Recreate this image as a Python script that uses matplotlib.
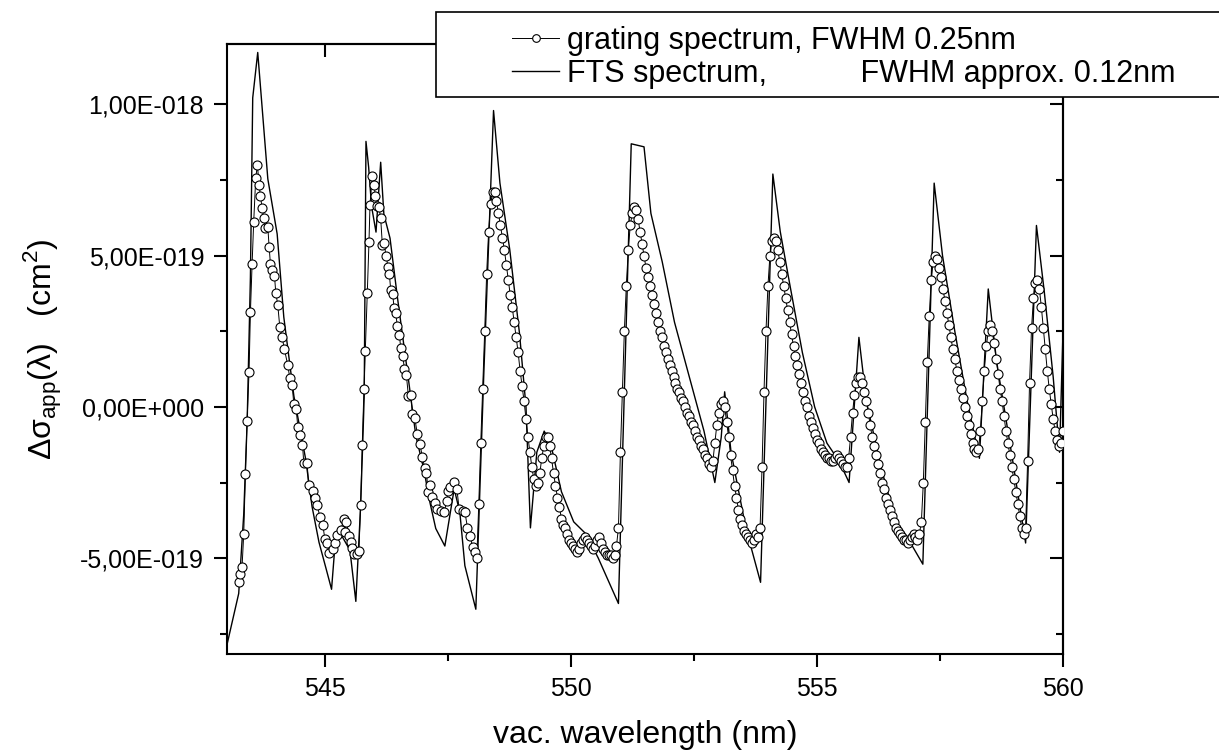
import matplotlib
matplotlib.use("Agg")
import matplotlib.pyplot as plt
from matplotlib.ticker import FixedLocator, FixedFormatter, MultipleLocator
from matplotlib.lines import Line2D
from matplotlib.patches import Rectangle

plt.rcParams['font.family'] = ['Liberation Sans', 'DejaVu Sans']

SCALE = 1e-18

# grating spectrum: wavelength (nm) and value (1e-18 cm^2)
grating_wl = [
    543.238, 543.272, 543.306, 543.340, 543.374, 543.408, 543.448, 543.476, 543.510, 543.543,
    543.584, 543.618, 543.652, 543.679, 543.713, 543.747, 543.780, 543.830, 543.856, 543.883,
    543.924, 543.965, 543.992, 544.033, 544.073, 544.120, 544.168, 544.236, 544.277, 544.325,
    544.359, 544.406, 544.440, 544.480, 544.535, 544.562, 544.630, 544.658, 544.739, 544.780,
    544.834, 544.889, 544.950, 544.990, 545.038, 545.072, 545.160, 545.194, 545.242, 545.310,
    545.378, 545.398, 545.430, 545.480, 545.514, 545.548, 545.580, 545.636, 545.683, 545.717,
    545.750, 545.785, 545.812, 545.853, 545.887, 545.908, 545.955, 545.989, 546.016, 546.043,
    546.090, 546.125, 546.159, 546.193, 546.234, 546.274, 546.300, 546.330, 546.370, 546.397,
    546.430, 546.465, 546.505, 546.533, 546.573, 546.607, 546.648, 546.689, 546.736, 546.770,
    546.818, 546.872, 546.920, 546.974, 547.020, 547.056, 547.090, 547.130, 547.178, 547.225,
    547.280, 547.348, 547.416, 547.470, 547.497, 547.538, 547.606, 547.674, 547.720, 547.790,
    547.837, 547.890, 547.946, 547.993, 548.040,
    548.08, 548.12, 548.16, 548.20, 548.24, 548.28, 548.32, 548.36, 548.40, 548.44,
    548.48, 548.52, 548.56, 548.60, 548.64, 548.68, 548.72, 548.76, 548.80, 548.84,
    548.88, 548.92, 548.96, 549.00, 549.04, 549.08, 549.12, 549.16, 549.20, 549.24,
    549.28, 549.32, 549.36, 549.40, 549.44, 549.48, 549.52, 549.56, 549.60, 549.64,
    549.68, 549.72, 549.76, 549.80, 549.84, 549.88, 549.92, 549.96, 550.00, 550.04,
    550.08, 550.12, 550.16, 550.20, 550.24, 550.28, 550.32, 550.36, 550.40, 550.44,
    550.48, 550.52, 550.56, 550.60, 550.64, 550.68, 550.72, 550.76, 550.80, 550.84,
    550.88, 550.92, 550.96, 551.00, 551.04, 551.08, 551.12, 551.16, 551.20, 551.24,
    551.28, 551.32, 551.36, 551.40, 551.44, 551.48, 551.52, 551.56, 551.60, 551.64,
    551.68, 551.72, 551.76, 551.80, 551.84, 551.88, 551.92, 551.96, 552.00, 552.04,
    552.08, 552.12, 552.16, 552.20, 552.24, 552.28, 552.32, 552.36, 552.40, 552.44,
    552.48, 552.52, 552.56, 552.60, 552.64, 552.68, 552.72, 552.76, 552.80, 552.84,
    552.88, 552.92, 552.96, 553.00, 553.04, 553.08, 553.12, 553.16, 553.20, 553.24,
    553.28, 553.32, 553.36, 553.40, 553.44, 553.48, 553.52, 553.56, 553.60, 553.64,
    553.68, 553.72, 553.76, 553.80, 553.84, 553.88, 553.92, 553.96, 554.00, 554.04,
    554.08, 554.12, 554.16, 554.20, 554.24, 554.28, 554.32, 554.36, 554.40, 554.44,
    554.48, 554.52, 554.56, 554.60, 554.64, 554.68, 554.72, 554.76, 554.80, 554.84,
    554.88, 554.92, 554.96, 555.00, 555.04, 555.08, 555.12, 555.16, 555.20, 555.24,
    555.28, 555.32, 555.36, 555.40, 555.44, 555.48, 555.52, 555.56, 555.60, 555.64,
    555.68, 555.72, 555.76, 555.80, 555.84, 555.88, 555.92, 555.96, 556.00, 556.04,
    556.08, 556.12, 556.16, 556.20, 556.24, 556.28, 556.32, 556.36, 556.40, 556.44,
    556.48, 556.52, 556.56, 556.60, 556.64, 556.68, 556.72, 556.76, 556.80, 556.84,
    556.88, 556.92, 556.96, 557.00, 557.04, 557.08, 557.12, 557.16, 557.20, 557.24,
    557.28, 557.32, 557.36, 557.40, 557.44, 557.48, 557.52, 557.56, 557.60, 557.64,
    557.68, 557.72, 557.76, 557.80, 557.84, 557.88, 557.92, 557.96, 558.00, 558.04,
    558.08, 558.12, 558.16, 558.20, 558.24, 558.28, 558.32, 558.36, 558.40, 558.44,
    558.48, 558.52, 558.56, 558.60, 558.64, 558.68, 558.72, 558.76, 558.80, 558.84,
    558.88, 558.92, 558.96, 559.00, 559.04, 559.08, 559.12, 559.16, 559.20, 559.24,
    559.28, 559.32, 559.36, 559.40, 559.44, 559.48, 559.52, 559.56, 559.60, 559.64,
    559.68, 559.72, 559.76, 559.80, 559.84, 559.88, 559.92, 559.96, 560.00]
grating_val = [
    -0.578, -0.552, -0.529, -0.421, -0.221, -0.046, 0.115, 0.313, 0.471, 0.612,
    0.756, 0.800, 0.735, 0.698, 0.659, 0.624, 0.591, 0.595, 0.530, 0.473,
    0.454, 0.434, 0.378, 0.336, 0.265, 0.232, 0.190, 0.138, 0.095, 0.071,
    0.010, -0.006, -0.066, -0.092, -0.125, -0.186, -0.186, -0.258, -0.277, -0.301,
    -0.323, -0.365, -0.392, -0.437, -0.450, -0.484, -0.469, -0.450, -0.425, -0.408,
    -0.371, -0.414, -0.382, -0.427, -0.447, -0.467, -0.486, -0.486, -0.476, -0.323,
    -0.127, 0.058, 0.184, 0.378, 0.545, 0.669, 0.765, 0.735, 0.699, 0.663,
    0.660, 0.624, 0.536, 0.543, 0.499, 0.464, 0.441, 0.386, 0.373, 0.327,
    0.310, 0.267, 0.238, 0.195, 0.170, 0.127, 0.104, 0.036, 0.040, -0.023,
    -0.036, -0.091, -0.121, -0.166, -0.203, -0.219, -0.280, -0.258, -0.297, -0.317,
    -0.336, -0.345, -0.349, -0.310, -0.277, -0.264, -0.247, -0.271, -0.336, -0.343,
    -0.347, -0.399, -0.427, -0.463, -0.480,
    -0.50, -0.32, -0.12, 0.06, 0.25, 0.44, 0.58, 0.67, 0.71, 0.71,
    0.68, 0.64, 0.60, 0.56, 0.52, 0.47, 0.42, 0.37, 0.33, 0.28,
    0.23, 0.18, 0.12, 0.07, 0.02, -0.04, -0.10, -0.15, -0.20, -0.24,
    -0.26, -0.25, -0.22, -0.17, -0.13, -0.10, -0.10, -0.13, -0.17, -0.22,
    -0.26, -0.30, -0.33, -0.37, -0.39, -0.40, -0.42, -0.44, -0.45, -0.46,
    -0.47, -0.48, -0.47, -0.45, -0.44, -0.43, -0.44, -0.45, -0.46, -0.47,
    -0.46, -0.44, -0.43, -0.45, -0.47, -0.48, -0.49, -0.49, -0.49, -0.50,
    -0.49, -0.46, -0.40, -0.15, 0.05, 0.25, 0.40, 0.52, 0.60, 0.64,
    0.66, 0.65, 0.62, 0.58, 0.54, 0.50, 0.46, 0.43, 0.40, 0.37,
    0.34, 0.31, 0.28, 0.25, 0.23, 0.20, 0.18, 0.16, 0.14, 0.12,
    0.10, 0.08, 0.06, 0.05, 0.03, 0.02, 0.00, -0.02, -0.03, -0.05,
    -0.06, -0.08, -0.10, -0.11, -0.13, -0.14, -0.16, -0.17, -0.19, -0.20,
    -0.18, -0.12, -0.06, -0.02, 0.01, 0.02, 0.00, -0.05, -0.10, -0.16,
    -0.21, -0.26, -0.30, -0.34, -0.37, -0.39, -0.41, -0.42, -0.43, -0.44,
    -0.45, -0.44, -0.42, -0.43, -0.40, -0.20, 0.05, 0.25, 0.40, 0.50,
    0.55, 0.56, 0.55, 0.52, 0.48, 0.44, 0.40, 0.36, 0.32, 0.28,
    0.24, 0.20, 0.17, 0.14, 0.11, 0.08, 0.05, 0.02, 0.00, -0.03,
    -0.05, -0.07, -0.09, -0.11, -0.12, -0.14, -0.15, -0.16, -0.17, -0.17,
    -0.18, -0.18, -0.17, -0.16, -0.17, -0.18, -0.19, -0.20, -0.20, -0.17,
    -0.10, -0.02, 0.04, 0.08, 0.10, 0.10, 0.08, 0.05, 0.02, -0.02,
    -0.06, -0.10, -0.13, -0.16, -0.19, -0.22, -0.25, -0.27, -0.30, -0.32,
    -0.34, -0.36, -0.38, -0.40, -0.41, -0.42, -0.43, -0.44, -0.44, -0.45,
    -0.44, -0.43, -0.42, -0.43, -0.44, -0.42, -0.38, -0.25, -0.05, 0.15,
    0.30, 0.42, 0.48, 0.50, 0.49, 0.46, 0.43, 0.39, 0.35, 0.31,
    0.27, 0.23, 0.19, 0.16, 0.12, 0.09, 0.06, 0.03, 0.00, -0.03,
    -0.06, -0.09, -0.12, -0.14, -0.15, -0.14, -0.08, 0.02, 0.12, 0.20,
    0.25, 0.27, 0.25, 0.21, 0.16, 0.11, 0.06, 0.02, -0.03, -0.08,
    -0.12, -0.16, -0.20, -0.24, -0.28, -0.32, -0.36, -0.40, -0.42, -0.40,
    -0.18, 0.08, 0.26, 0.36, 0.41, 0.42, 0.39, 0.33, 0.26, 0.19,
    0.12, 0.06, 0.01, -0.04, -0.08, -0.11, -0.13, -0.12, -0.08]

# FTS spectrum: wavelength (nm) and value (1e-18 cm^2)
fts_wl = [
    543.000, 543.238, 543.340, 543.410, 543.476, 543.523, 543.625, 543.830, 544.020, 544.155,
    544.360, 544.600, 544.730, 544.870, 545.020, 545.126, 545.210, 545.340, 545.500, 545.620,
    545.717, 545.765, 545.790, 545.826, 545.880, 545.940, 546.030, 546.125, 546.190, 546.315,
    546.465, 546.670, 546.840, 547.010, 547.110, 547.245, 547.430, 547.620, 547.735, 547.837,
    548.060, 548.220, 548.420, 548.550, 548.750, 548.950, 549.080, 549.170, 549.300, 549.450,
    549.580, 549.800, 550.050, 550.300, 550.550, 550.960, 551.220, 551.480, 551.620, 551.850,
    552.100, 552.400, 552.700, 552.920, 553.050, 553.120, 553.250, 553.550, 553.850, 554.100,
    554.250, 554.450, 554.700, 554.950, 555.200, 555.450, 555.650, 555.850, 556.000, 556.300,
    556.600, 556.900, 557.150, 557.380, 557.550, 557.800, 558.050, 558.300, 558.480, 558.650,
    558.950, 559.240, 559.460, 559.620, 559.800, 559.930, 560.000]
fts_val = [
    -0.786, -0.617, -0.356, -0.050, 0.428, 1.022, 1.172, 0.754, 0.572, 0.297,
    0.036, -0.173, -0.330, -0.447, -0.538, -0.603, -0.428, -0.428, -0.474, -0.643,
    -0.329, -0.095, 0.036, 0.878, 0.793, 0.663, 0.578, 0.809, 0.637, 0.558,
    0.363, 0.115, -0.095, -0.212, -0.304, -0.402, -0.460, -0.271, -0.349, -0.525,
    -0.669, 0.100, 0.980, 0.740, 0.520, 0.240, 0.000, -0.400, -0.150, -0.080,
    -0.120, -0.280, -0.380, -0.420, -0.500, -0.650, 0.870, 0.860, 0.640, 0.480,
    0.280, 0.100, -0.080, -0.250, -0.100, 0.050, -0.150, -0.400, -0.580, 0.770,
    0.580, 0.400, 0.180, 0.000, -0.120, -0.180, -0.250, 0.230, 0.020, -0.200,
    -0.380, -0.450, -0.520, 0.740, 0.500, 0.250, 0.020, -0.170, 0.390, 0.150,
    -0.150, -0.450, 0.600, 0.380, 0.100, -0.150, 0.250]

x_ticks = [545, 550, 555, 560]
x_ticklabels = ["545", "550", "555", "560"]
y_ticks = [-5e-19, 0.0, 5e-19, 1e-18]
y_ticklabels = ["-5,00E-019", "0,00E+000", "5,00E-019", "1,00E-018"]

legend_labels = ["grating spectrum, FWHM 0.25nm",
                 "FTS spectrum,           FWHM approx. 0.12nm"]

W, H = 1219, 752
fig = plt.figure(figsize=(W / 100, H / 100), dpi=100)
ax = fig.add_axes([227 / W, 1 - 654 / H, (1063 - 227) / W, (654 - 44) / H])

g_y = [v * SCALE for v in grating_val]
f_y = [v * SCALE for v in fts_val]
ax.plot(grating_wl, g_y, color='black', lw=0.7, marker='o', ms=6.5, mfc='white',
        mec='black', mew=0.8, zorder=3)
ax.plot(fts_wl, f_y, color='black', lw=1.0, zorder=2)

ax.set_xlim(543, 560)
ax.set_ylim(-0.817e-18, 1.2e-18)
ax.xaxis.set_major_locator(FixedLocator(x_ticks))
ax.xaxis.set_major_formatter(FixedFormatter(x_ticklabels))
ax.xaxis.set_minor_locator(MultipleLocator(2.5))
ax.yaxis.set_major_locator(FixedLocator(y_ticks))
ax.yaxis.set_major_formatter(FixedFormatter(y_ticklabels))
ax.yaxis.set_minor_locator(MultipleLocator(2.5e-19))

for s in ax.spines.values():
    s.set_linewidth(1.5)
ax.tick_params(which='major', direction='out', length=9.5, width=1.5, labelsize=18, pad=7)
ax.tick_params(which='minor', direction='out', length=5, width=1.5)
axt = ax.secondary_xaxis('top')
axt.xaxis.set_major_locator(FixedLocator(x_ticks))
axt.xaxis.set_minor_locator(MultipleLocator(2.5))
axt.tick_params(which='major', direction='in', length=9.5, width=1.5, labeltop=False)
axt.tick_params(which='minor', direction='in', length=5, width=1.5)
axt.spines['top'].set_linewidth(1.5)
axr = ax.secondary_yaxis('right')
axr.yaxis.set_major_locator(FixedLocator(y_ticks))
axr.yaxis.set_minor_locator(MultipleLocator(2.5e-19))
axr.tick_params(which='major', direction='in', length=9.5, width=1.5, labelright=False)
axr.tick_params(which='minor', direction='in', length=5, width=1.5)
axr.spines['right'].set_linewidth(1.5)

ax.set_xlabel("vac. wavelength (nm)", fontsize=23, labelpad=14)
ax.set_ylabel(r"Δσ$_{\mathregular{app}}$(λ)   (cm$^{\mathregular{2}}$)", fontsize=23, labelpad=12)

# legend box (extends past the right edge of the figure)
frame = Rectangle((436 / W, 1 - 97 / H), 0.9, 85 / H, transform=fig.transFigure,
                  facecolor='white', edgecolor='black', lw=1.2, zorder=5)
fig.patches.append(frame)
handles = [Line2D([], [], color='black', lw=0.7, marker='o', ms=5.5, mfc='white', mec='black', mew=0.8),
           Line2D([], [], color='black', lw=1.0)]
leg = fig.legend(handles, legend_labels, loc='upper left',
                 bbox_to_anchor=(512 / W, 1 - 26 / H), frameon=False,
                 fontsize=22, handlelength=1.55, handletextpad=0.25, labelspacing=0.1,
                 borderpad=0, borderaxespad=0, numpoints=1)
leg.set_zorder(6)

fig.savefig("out.png", dpi=100)
